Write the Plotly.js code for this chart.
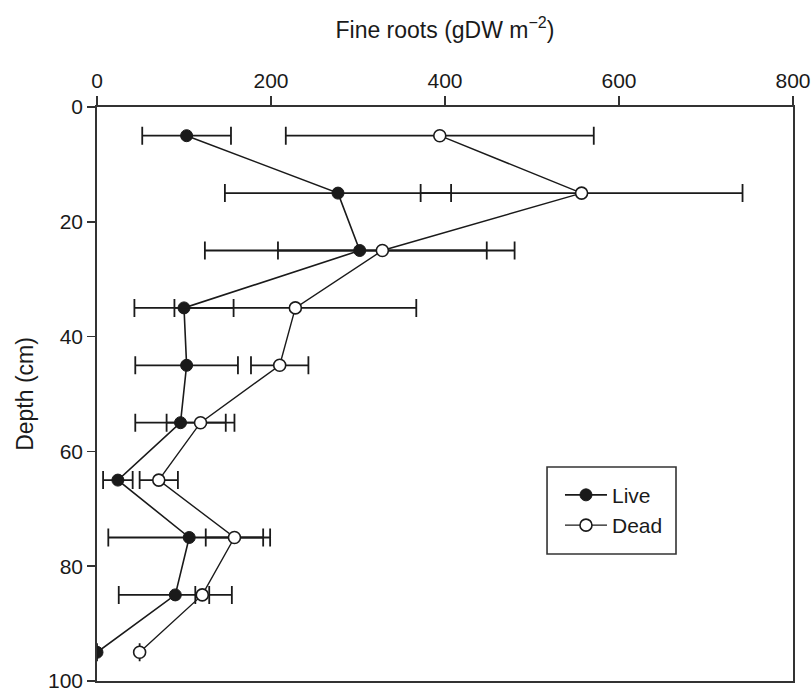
<!DOCTYPE html>
<html>
<head>
<meta charset="utf-8">
<script src="https://cdn.plot.ly/plotly-3.0.1.min.js"></script>
<style>html,body{margin:0;padding:0;background:#fff;}#chart{width:811px;height:688px;}</style>
</head>
<body>
<div id="chart"></div>
<script>
const depth = [5, 15, 25, 35, 45, 55, 65, 75, 85, 95];
const liveRoots = [103, 277, 302, 100, 103, 96, 24, 106, 90, 0];
const liveErr = [51, 130, 178, 57, 59, 52, 17, 93, 65, 0];
const deadRoots = [394, 557, 328, 228, 210, 119, 71, 158, 121, 49];
const deadErr = [177, 185, 120, 139, 33, 39, 22, 33, 8, 0];
const xTicks = [0, 200, 400, 600, 800];
const yTicks = [0, 20, 40, 60, 80, 100];

const FONT = 'Liberation Sans, Arial, Helvetica, sans-serif';
const INK = '#1a1a1a';

const traces = [
  {
    name: 'Live', x: liveRoots, y: depth, type: 'scatter', mode: 'lines+markers',
    line: {color: INK, width: 1.6},
    marker: {symbol: 'circle', size: 12, color: INK, line: {color: INK, width: 1}},
    error_x: {type: 'data', array: liveErr, visible: true, color: INK, thickness: 1.8, width: 9}
  },
  {
    name: 'Dead', x: deadRoots, y: depth, type: 'scatter', mode: 'lines+markers',
    line: {color: INK, width: 1.4},
    marker: {symbol: 'circle', size: 12, color: '#ffffff', line: {color: INK, width: 1.6}},
    error_x: {type: 'data', array: deadErr, visible: true, color: INK, thickness: 1.8, width: 9}
  }
];

const layout = {
  width: 811, height: 688,
  margin: {l: 97, r: 18, t: 107, b: 7, pad: 0},
  paper_bgcolor: '#ffffff', plot_bgcolor: '#ffffff',
  font: {family: FONT, size: 21, color: INK},
  showlegend: true,
  legend: {
    x: 0.6652, y: 0.3594, xanchor: 'left', yanchor: 'top',
    borderwidth: 0, bgcolor: 'rgba(0,0,0,0)',
    font: {family: FONT, size: 21, color: INK},
    itemwidth: 42
  },
  shapes: [{
    type: 'rect', xref: 'paper', yref: 'paper',
    x0: 0.6466, x1: 0.8319, y0: 0.2213, y1: 0.3728,
    line: {color: '#333', width: 1.6}, fillcolor: 'rgba(0,0,0,0)', layer: 'above'
  }],
  xaxis: {
    side: 'top', range: [0, 800], tickvals: xTicks, ticktext: xTicks.map(String),
    showgrid: false, zeroline: false,
    showline: true, linecolor: '#333', linewidth: 1.8, mirror: true,
    ticks: 'outside', ticklen: 9, tickwidth: 1.5, tickcolor: '#333',
    tickfont: {family: FONT, size: 21, color: INK},
    title: {text: 'Fine roots (gDW m<sup>\u22122</sup>)', font: {family: FONT, size: 23, color: INK}, standoff: 24}
  },
  yaxis: {
    range: [100, 0], tickvals: yTicks, ticktext: yTicks.map(String),
    ticklabeloverflow: 'allow',
    showgrid: false, zeroline: false,
    showline: true, linecolor: '#333', linewidth: 1.8, mirror: true,
    ticks: 'outside', ticklen: 8, tickwidth: 1.5, tickcolor: '#333',
    tickfont: {family: FONT, size: 21, color: INK},
    title: {text: 'Depth (cm)', font: {family: FONT, size: 23, color: INK}, standoff: 8}
  }
};

Plotly.newPlot('chart', traces, layout, {displayModeBar: false, staticPlot: true});
</script>
</body>
</html>
